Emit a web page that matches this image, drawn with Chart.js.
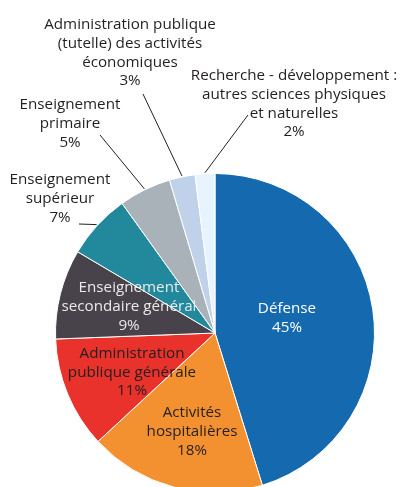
<!DOCTYPE html>
<html>
<head>
<meta charset="utf-8">
<script src="https://cdn.jsdelivr.net/npm/chart.js@4/dist/chart.umd.min.js"></script>
<style>
  html, body { margin: 0; padding: 0; background: #ffffff; }
  #wrap { width: 403px; height: 487px; overflow: hidden; position: relative; }
  canvas { display: block; }
</style>
</head>
<body>
<div id="wrap"><canvas id="c" width="403" height="520" style="width:403px;height:520px"></canvas></div>
<script>
// ---- data ----
const categories = [
  ["Défense"],
  ["Activités", "hospitalières"],
  ["Administration", "publique générale"],
  ["Enseignement", "secondaire général"],
  ["Enseignement", "supérieur"],
  ["Enseignement", "primaire"],
  ["Administration publique", "(tutelle) des activités", "économiques"],
  ["Recherche - développement :", "autres sciences physiques", "et naturelles"]
];
const values = [45.2, 17.9, 11.3, 9.1, 6.6, 5.3, 2.6, 2.0];
const percentLabels = ["45%", "18%", "11%", "9%", "7%", "5%", "3%", "2%"];

// ---- styles / layout ----
const colors = ["#1569ae", "#f39130", "#e8322b", "#48434a", "#22889c", "#a9b2b9", "#bfd2ea", "#e8f4fd"];
const FONT = "15.2px 'Open Sans', sans-serif";
const LINE_H = 18.7;
const labelLayout = [
  { x: 287, y: 309, color: "#ffffff" },
  { x: 192, y: 413, color: "#231f20" },
  { x: 132, y: 353.5, color: "#231f20" },
  { x: 129, y: 288, color: "#e9e9ea" },
  { x: 60, y: 180, color: "#231f20", lineTo: [79, 224] },
  { x: 70, y: 105, color: "#231f20", lineTo: [100, 135] },
  { x: 130, y: 25, color: "#231f20", lineTo: [143, 94] },
  { x: 294, y: 76, color: "#231f20", lineTo: [248, 115] }
];

const labelPlugin = {
  id: 'pieLabels',
  afterDatasetsDraw(chart) {
    const ctx = chart.ctx;
    const meta = chart.getDatasetMeta(0);
    ctx.save();
    meta.data.forEach((arc, i) => {
      const L = labelLayout[i];
      if (!L.lineTo) return;
      const p = arc.getProps(['x', 'y', 'startAngle', 'endAngle', 'outerRadius'], true);
      const mid = (p.startAngle + p.endAngle) / 2;
      const r = p.outerRadius + 1;
      ctx.beginPath();
      ctx.moveTo(p.x + Math.cos(mid) * r, p.y + Math.sin(mid) * r);
      ctx.lineTo(L.lineTo[0], L.lineTo[1]);
      ctx.strokeStyle = "#231f20";
      ctx.lineWidth = 1;
      ctx.stroke();
    });
    ctx.font = FONT;
    ctx.textAlign = 'center';
    ctx.textBaseline = 'middle';
    meta.data.forEach((arc, i) => {
      const L = labelLayout[i];
      const lines = categories[i].concat([percentLabels[i]]);
      ctx.fillStyle = L.color;
      lines.forEach((t, k) => ctx.fillText(t, L.x, L.y + k * LINE_H));
    });
    ctx.restore();
  }
};

new Chart(document.getElementById('c'), {
  type: 'pie',
  data: {
    labels: categories.map(c => c.join(' ')),
    datasets: [{
      data: values,
      backgroundColor: colors,
      borderColor: '#ffffff',
      borderWidth: 1
    }]
  },
  options: {
    responsive: false,
    animation: false,
    layout: { padding: { left: 55, right: 28, top: 173, bottom: 27 } },
    plugins: { legend: { display: false }, tooltip: { enabled: false } }
  },
  plugins: [labelPlugin]
});
</script>
</body>
</html>
